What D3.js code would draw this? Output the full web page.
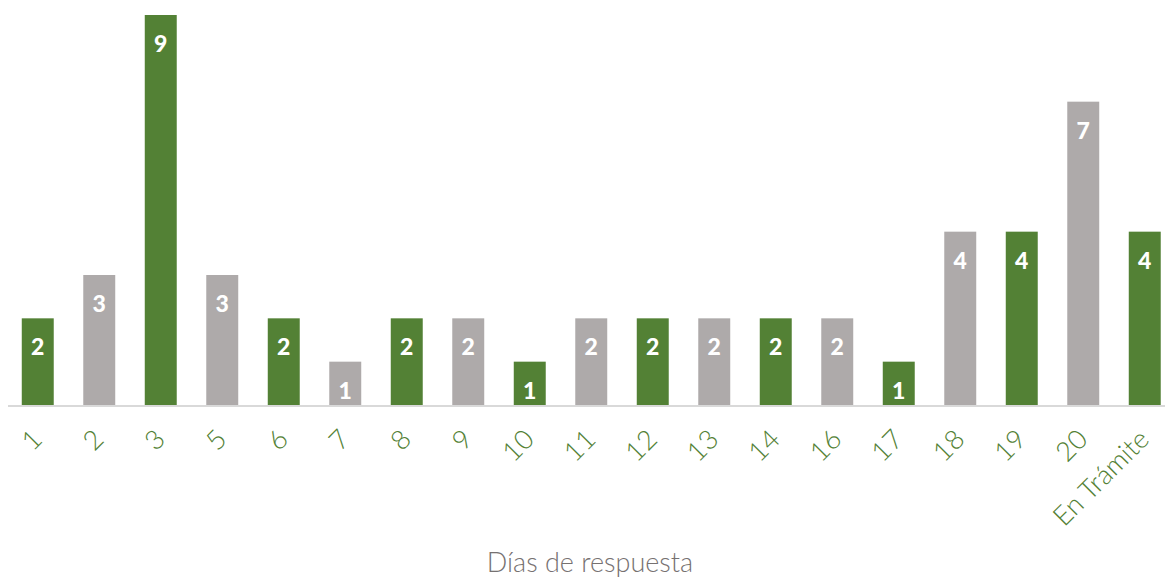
<!DOCTYPE html>
<html>
<head>
<meta charset="utf-8">
<script src="https://cdn.jsdelivr.net/npm/d3@7"></script>
<style>
	body { margin: 0; background: #fff; }
	svg { display: block; font-family: Lato, "DejaVu Sans", sans-serif; }
</style>
</head>
<body>
<svg width="1165" height="578"></svg>
<script>
const categories = ['1', '2', '3', '5', '6', '7', '8', '9', '10', '11', '12', '13', '14', '16', '17', '18', '19', '20', 'En Trámite'];
const values = [2, 3, 9, 3, 2, 1, 2, 2, 1, 2, 2, 2, 2, 2, 1, 4, 4, 7, 4];
const axisTitle = 'Días de respuesta';

const green = '#538135',
	grey = '#aeaaaa',
	baseline = 405;

const svg = d3.select('svg');

let xScale = d3.scaleBand()
	.domain(categories)
	.range([7, 1175.5])
	.paddingInner(0.48)
	.paddingOuter(0.24);

let yScale = d3.scaleLinear()
	.domain([0, 9])
	.range([baseline, 15]);

// axis line
svg.append('line')
	.attr('x1', 8)
	.attr('x2', 1165)
	.attr('y1', baseline + 1)
	.attr('y2', baseline + 1)
	.attr('stroke', '#d9d9d9')
	.attr('stroke-width', 2);

let bars = svg.selectAll('.bar')
	.data(values)
	.enter()
	.append('g')
	.attr('class', 'bar');

bars.append('rect')
	.attr('x', (d, i) => xScale(categories[i]))
	.attr('y', d => yScale(d))
	.attr('width', xScale.bandwidth())
	.attr('height', d => baseline - yScale(d))
	.attr('fill', (d, i) => i % 2 === 0 ? green : grey);

// value labels inside the bar end
bars.append('text')
	.attr('x', (d, i) => xScale(categories[i]) + xScale.bandwidth() / 2)
	.attr('y', d => yScale(d) + 29)
	.attr('dy', '0.35em')
	.attr('text-anchor', 'middle')
	.attr('fill', '#fff')
	.style('font-size', '23px')
	.style('font-weight', '900')
	.text(d => d);

// category labels, rotated
svg.selectAll('.cat')
	.data(categories)
	.enter()
	.append('text')
	.attr('class', 'cat')
	.attr('transform', d => `translate(${xScale(d) + xScale.bandwidth() / 2 + 6},${baseline + 36}) rotate(-45)`)
	.attr('text-anchor', 'end')
	.attr('fill', green)
	.style('font-size', '27px')
	.style('font-weight', '300')
	.text(d => d);

svg.append('text')
	.attr('x', 590)
	.attr('y', 572)
	.attr('text-anchor', 'middle')
	.attr('fill', '#767171')
	.style('font-size', '27px')
	.style('font-weight', '300')
	.text(axisTitle);
</script>
</body>
</html>
